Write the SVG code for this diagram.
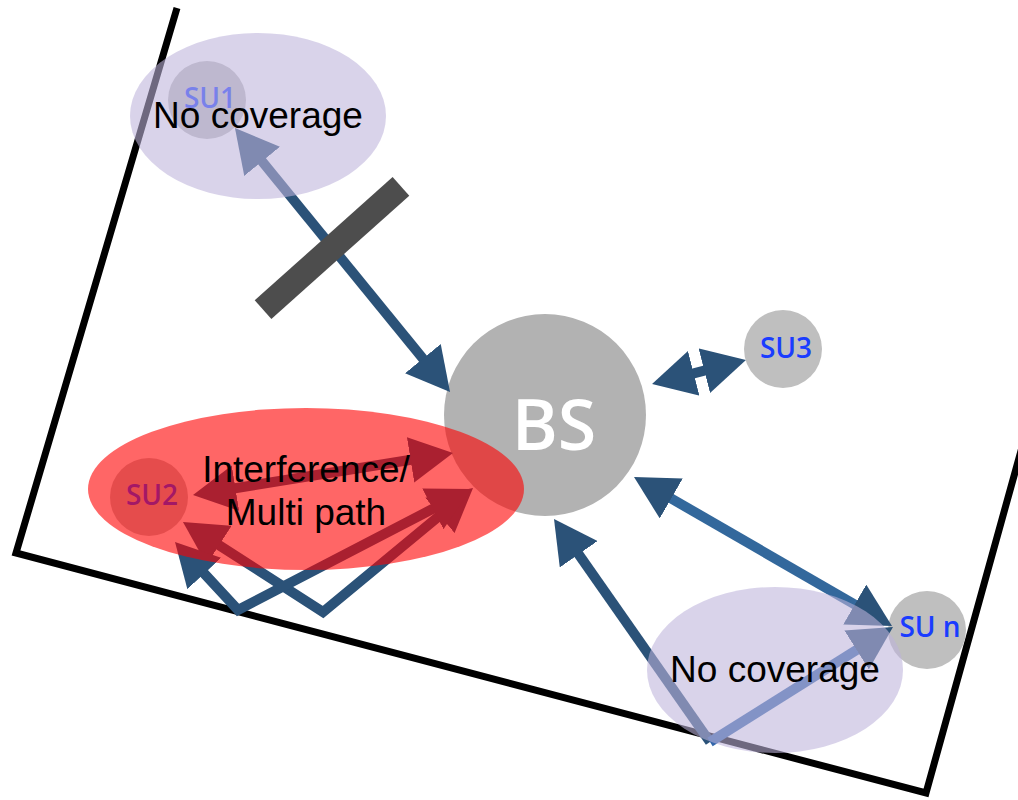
<svg xmlns="http://www.w3.org/2000/svg" width="1018" height="800" viewBox="0 0 1018 800">
<defs>
<style>
.border{fill:none;stroke:#000;stroke-width:7;stroke-linejoin:miter}
.su{fill:#bfbfbf}
.sulbl{font-family:"Open Sans","Noto Sans",sans-serif;font-weight:600;font-size:28px;fill:#1a3cff;text-anchor:middle}
.link{fill:none;stroke:#2b5278;stroke-width:10}
.link2{fill:none;stroke:#33689c;stroke-width:10}
.link3{fill:none;stroke:#3366aa;stroke-width:10}
.lav{fill:#bdb3db;fill-opacity:0.58}
.red{fill:#ff0000;fill-opacity:0.6}
.big{font-family:"Liberation Sans",Arial,sans-serif;font-size:37px;fill:#000;text-anchor:middle}
</style>
<marker id="ah" viewBox="0 0 43 46" markerWidth="43" markerHeight="46" refX="13" refY="23" orient="auto-start-reverse" markerUnits="userSpaceOnUse">
<path d="M0,0 L43,23 L0,46 Z" fill="#2b5278"/>
</marker>
</defs>
<rect width="1018" height="800" fill="#fff"/>
<polyline class="border" points="177,8 16,553 926,793 1024,440"/>

<g id="BS">
<circle cx="545" cy="415" r="101" fill="#b2b2b2"/>
<text x="554" y="450" font-family="'Open Sans','Noto Sans',sans-serif" font-weight="600" font-size="70" fill="#fff" text-anchor="middle">BS</text>
</g>
<g id="SU1">
<circle class="su" cx="207" cy="100" r="39"/>
<text class="sulbl" x="210" y="108">SU1</text>
</g>
<g id="SU2">
<circle class="su" cx="149" cy="497" r="39"/>
<text class="sulbl" x="152" y="505">SU2</text>
</g>
<g id="SU3">
<circle class="su" cx="783" cy="349" r="39"/>
<text class="sulbl" x="786" y="358">SU3</text>
</g>
<g id="SUn">
<circle class="su" cx="927" cy="630" r="39"/>
<text class="sulbl" x="930" y="637">SU n</text>
</g>

<g id="connectors">
<line class="link" x1="253.9" y1="151.3" x2="431.1" y2="368.7" marker-start="url(#ah)" marker-end="url(#ah)"/>
<line class="link" x1="681.1" y1="376.6" x2="716.9" y2="367.4" marker-start="url(#ah)" marker-end="url(#ah)"/>
<line class="link2" x1="660" y1="492" x2="866" y2="611" marker-start="url(#ah)" marker-end="url(#ah)"/>
<path class="link" d="M571.2,543.6 L710,742" marker-start="url(#ah)"/>
<path class="link3" d="M710,742 L867.6,643" marker-end="url(#ah)"/>
<line class="link" x1="222.6" y1="490.2" x2="423.4" y2="457.8" marker-start="url(#ah)" marker-end="url(#ah)"/>
<path class="link" d="M208.2,538.2 L323,612 L449.9,507.1" marker-start="url(#ah)" marker-end="url(#ah)"/>
<path class="link" d="M195.4,564 L238,610 L444.4,502.8" marker-start="url(#ah)" marker-end="url(#ah)"/>
</g>

<g id="obstacle">
<rect x="239.5" y="235.5" width="185" height="25" fill="#4d4d4d" transform="rotate(-41.8 332 248)"/>
</g>

<g id="nocoverage1">
<ellipse class="lav" cx="258" cy="116" rx="128" ry="83"/>
<text class="big" x="258" y="128">No coverage</text>
</g>
<g id="nocoverage2">
<ellipse class="lav" cx="775" cy="670" rx="128" ry="83"/>
<text class="big" x="775" y="682">No coverage</text>
</g>
<g id="interference">
<ellipse class="red" cx="306" cy="489" rx="218" ry="81"/>
<text class="big" x="306" y="482">Interference/</text>
<text class="big" x="306" y="525">Multi path</text>
</g>
</svg>
